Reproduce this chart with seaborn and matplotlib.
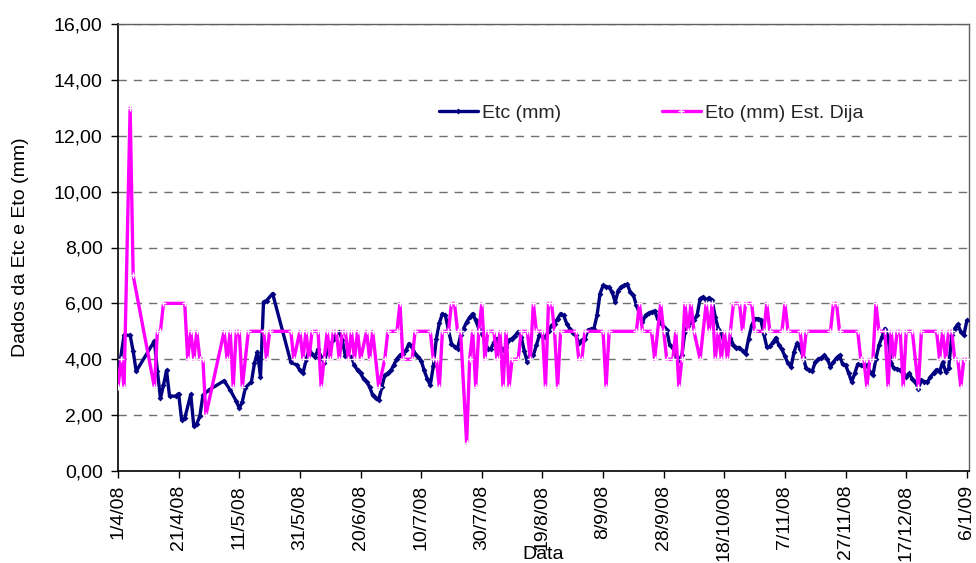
import matplotlib
matplotlib.use("Agg")
import matplotlib.pyplot as plt
import seaborn as sns
import pandas as pd
import numpy as np

# ---------------- data ----------------
start_date = "2008-04-01"

etc_day = [0, 2, 4, 5, 6, 12, 13, 14, 15, 16, 17, 19, 20, 21, 22, 24, 25, 26, 27, 28,
           30, 35, 37, 39, 40, 41, 42, 44, 45, 46, 47, 48, 49, 51, 57, 59, 60, 61, 62, 63,
           64, 65, 66, 67, 68, 69, 70, 71, 72, 73, 74, 75, 76, 77, 78, 79, 80, 81, 82, 83,
           84, 85, 86, 87, 88, 89, 90, 91, 92, 93, 94, 95, 96, 97, 98, 99, 100, 101, 102, 103,
           104, 105, 106, 107, 108, 109, 110, 111, 112, 113, 114, 115, 116, 117, 118, 119, 120, 121, 122, 123,
           124, 125, 126, 127, 128, 129, 130, 131, 132, 133, 134, 135, 136, 137, 138, 139, 140, 141, 142, 143,
           144, 145, 146, 147, 148, 149, 150, 151, 152, 153, 154, 155, 156, 157, 158, 159, 160, 161, 162, 163,
           164, 165, 166, 167, 168, 169, 170, 171, 172, 173, 174, 175, 176, 177, 178, 179, 180, 181, 182, 183,
           184, 185, 186, 187, 188, 189, 190, 191, 192, 193, 194, 195, 196, 197, 198, 199, 200, 201, 202, 203,
           204, 205, 206, 207, 208, 209, 210, 211, 212, 213, 214, 215, 216, 217, 218, 219, 220, 221, 222, 223,
           224, 225, 226, 227, 228, 229, 230, 231, 232, 233, 234, 235, 236, 237, 238, 239, 240, 241, 242, 243,
           244, 245, 246, 247, 248, 249, 250, 251, 252, 253, 254, 255, 256, 257, 258, 259, 260, 261, 262, 263,
           264, 265, 266, 267, 268, 269, 270, 271, 272, 273, 274, 275, 276, 277, 278, 279, 280]
etc_val = [3.43, 4.86, 4.86, 4.29, 3.57, 4.65, 3.57, 2.60, 3.07, 3.60, 2.68, 2.68, 2.77, 1.82, 1.88, 2.74, 1.60, 1.70, 1.96, 2.71,
           2.90, 3.23, 2.90, 2.50, 2.24, 2.48, 2.98, 3.19, 3.85, 4.26, 3.37, 6.05, 6.10, 6.35, 3.90, 3.79, 3.60, 3.49, 3.96, 4.32,
           4.20, 4.08, 4.35, 4.08, 3.85, 4.32, 4.50, 4.68, 4.94, 4.98, 4.68, 4.10, 4.10, 4.08, 3.79, 3.60, 3.49, 3.30, 3.19, 3.01,
           2.71, 2.60, 2.54, 3.00, 3.43, 3.50, 3.60, 3.80, 4.02, 4.14, 4.20, 4.32, 4.56, 4.45, 4.20, 4.08, 3.95, 3.60, 3.30, 3.07,
           3.75, 4.74, 5.30, 5.63, 5.57, 5.04, 4.56, 4.45, 4.38, 4.86, 5.10, 5.33, 5.50, 5.63, 5.39, 5.10, 4.92, 4.68, 4.35, 4.38,
           4.60, 4.74, 4.44, 4.32, 4.44, 4.68, 4.74, 4.85, 4.98, 4.80, 4.30, 3.90, 4.20, 4.14, 4.50, 4.86, 4.82, 4.80, 5.00, 5.21,
           5.27, 5.45, 5.63, 5.57, 5.27, 5.10, 4.95, 4.86, 4.58, 4.68, 4.74, 5.04, 5.08, 5.10, 5.57, 6.35, 6.64, 6.60, 6.58, 6.40,
           6.05, 6.46, 6.60, 6.64, 6.68, 6.40, 6.29, 5.93, 5.63, 5.33, 5.57, 5.65, 5.69, 5.73, 5.45, 5.30, 5.15, 5.04, 4.50, 4.42,
           4.08, 3.96, 4.14, 4.98, 5.20, 5.33, 5.39, 5.57, 6.17, 6.23, 6.13, 6.20, 6.11, 5.51, 5.10, 4.94, 4.56, 4.35, 4.77, 4.50,
           4.42, 4.42, 4.30, 4.20, 4.74, 5.21, 5.45, 5.45, 5.42, 4.92, 4.44, 4.46, 4.60, 4.77, 4.50, 4.35, 4.10, 3.85, 3.73, 4.26,
           4.58, 4.38, 4.08, 3.67, 3.60, 3.58, 3.90, 4.00, 4.05, 4.14, 4.00, 3.73, 3.90, 4.05, 4.14, 3.82, 3.79, 3.50, 3.19, 3.49,
           3.82, 3.78, 3.75, 3.79, 3.55, 3.43, 4.02, 4.50, 4.80, 5.10, 4.80, 3.85, 3.67, 3.65, 3.61, 3.50, 3.37, 3.49, 3.30, 3.19,
           2.95, 3.25, 3.20, 3.19, 3.37, 3.50, 3.63, 3.55, 3.90, 3.55, 3.67, 4.86, 5.10, 5.25, 4.98, 4.86, 5.39]

eto_day = [0, 1, 2, 4, 5, 12, 13, 14, 15, 22, 23, 24, 25, 26, 27, 28, 29, 35, 36, 37,
           38, 39, 40, 41, 43, 48, 49, 50, 57, 58, 60, 61, 62, 63, 64, 66, 67, 68, 69, 70,
           71, 72, 73, 74, 75, 76, 77, 78, 79, 80, 82, 83, 84, 86, 88, 89, 92, 93, 94, 97,
           98, 103, 104, 105, 106, 107, 109, 110, 111, 112, 113, 115, 116, 117, 118, 119, 120, 121, 122, 124,
           125, 126, 127, 128, 129, 130, 132, 133, 135, 136, 137, 138, 140, 141, 142, 143, 144, 145, 146, 151,
           152, 153, 154, 160, 161, 162, 171, 172, 173, 176, 177, 179, 180, 181, 183, 184, 185, 186, 187, 188,
           189, 190, 192, 194, 195, 196, 197, 198, 199, 200, 201, 202, 203, 205, 206, 207, 209, 210, 213, 214,
           215, 219, 220, 221, 225, 226, 227, 235, 236, 237, 238, 244, 245, 246, 247, 248, 249, 250, 251, 253,
           254, 255, 256, 257, 258, 259, 260, 262, 264, 265, 270, 271, 272, 273, 274, 275, 276, 277, 278, 279,
           280]
eto_val = [3, 4, 3, 13, 7, 3, 5, 5, 6, 6, 4, 5, 4, 5, 4, 4, 2, 5, 4, 5,
           3, 5, 5, 3, 5, 5, 4, 5, 5, 4, 5, 4, 5, 4, 5, 5, 3, 4, 5, 4,
           5, 5, 4, 5, 5, 4, 5, 4, 5, 4, 5, 4, 5, 3, 4, 5, 5, 6, 4, 4,
           5, 5, 4, 4, 3, 5, 5, 6, 6, 5, 5, 1, 4, 5, 3, 5, 6, 4, 5, 5,
           4, 5, 3, 5, 3, 4, 4, 5, 5, 4, 6, 5, 5, 3, 6, 6, 5, 3, 5, 5,
           4, 4, 5, 5, 3, 5, 5, 6, 5, 5, 4, 6, 5, 4, 4, 5, 3, 4, 6, 5,
           6, 5, 4, 6, 5, 6, 4, 5, 4, 5, 4, 5, 6, 6, 5, 6, 6, 5, 5, 6,
           5, 5, 6, 5, 5, 4, 5, 5, 6, 6, 5, 5, 4, 4, 3, 4, 4, 6, 5, 5,
           3, 5, 4, 5, 5, 3, 5, 5, 3, 5, 5, 4, 5, 4, 5, 5, 4, 4, 3, 4,
           4]

y_ticks = [0, 2, 4, 6, 8, 10, 12, 14, 16]
x_tick_step_days = 20
series_names = ["Etc (mm)", "Eto (mm) Est. Dija"]
x_label = "Data"
y_label = "Dados da Etc e Eto (mm)"

# ---------------- build frames ----------------
t0 = pd.Timestamp(start_date)
etc_df = pd.DataFrame({"Data": t0 + pd.to_timedelta(etc_day, unit="D"), "valor": etc_val})
eto_df = pd.DataFrame({"Data": t0 + pd.to_timedelta(eto_day, unit="D"), "valor": eto_val})

sns.set_theme(style="white")
plt.rcParams["font.family"] = ["Liberation Sans", "DejaVu Sans"]
FS = 14

fig = plt.figure(figsize=(9.76, 5.63), dpi=100)
ax = fig.add_axes([118 / 976, 1 - 471 / 563, (969 - 118) / 976, (471 - 24) / 563])

sns.lineplot(data=etc_df, x="Data", y="valor", ax=ax, color="#000080", linewidth=2.4,
             marker="D", markersize=3, markeredgewidth=0, label=series_names[0], zorder=3)
sns.lineplot(data=eto_df, x="Data", y="valor", ax=ax, color="#FF00FF", linewidth=2.4,
             marker="+", markersize=4, markeredgewidth=1, label=series_names[1], zorder=4)

# axes limits & ticks
ax.set_ylim(y_ticks[0], y_ticks[-1])
ax.set_xlim(t0, t0 + pd.Timedelta(days=280.7))
ax.set_yticks(y_ticks)
ax.set_yticklabels([f"{v:.2f}".replace(".", ",") for v in y_ticks], fontsize=FS)
xt = pd.date_range(t0, t0 + pd.Timedelta(days=280), freq=f"{x_tick_step_days}D")
ax.set_xticks(xt)
ax.set_xticklabels([f"{d.day}/{d.month}/{d.strftime('%y')}" for d in xt], rotation=90, fontsize=FS)
ax.tick_params(axis="both", direction="out", length=5, width=1, color="black",
               bottom=True, left=True, labelcolor="black")
ax.tick_params(axis="y", pad=6)
ax.tick_params(axis="x", pad=5)

# grid
ax.yaxis.grid(True, linestyle=(0, (6, 5)), color="#707070", linewidth=1)
ax.xaxis.grid(False)
ax.set_axisbelow(True)

for s in ["left", "bottom"]:
    ax.spines[s].set_color("black")
    ax.spines[s].set_linewidth(1.2)
for s in ["top", "right"]:
    ax.spines[s].set_color("#606060")
    ax.spines[s].set_linewidth(1)

ax.set_xlabel(x_label, fontsize=FS, color="black")
ax.set_ylabel(y_label, fontsize=FS, color="black")
ax.xaxis.set_label_coords(0.5, -0.168)
ax.yaxis.set_label_coords(-0.105, 0.5)

leg = ax.legend(loc="center left", bbox_to_anchor=(439 / 976, 1 - 113 / 563),
                bbox_transform=fig.transFigure, ncol=2, frameon=False, fontsize=FS,
                handlelength=2.0, handletextpad=0.2, columnspacing=5.2,
                borderpad=0, borderaxespad=0)

fig.savefig("out.png", dpi=100)
